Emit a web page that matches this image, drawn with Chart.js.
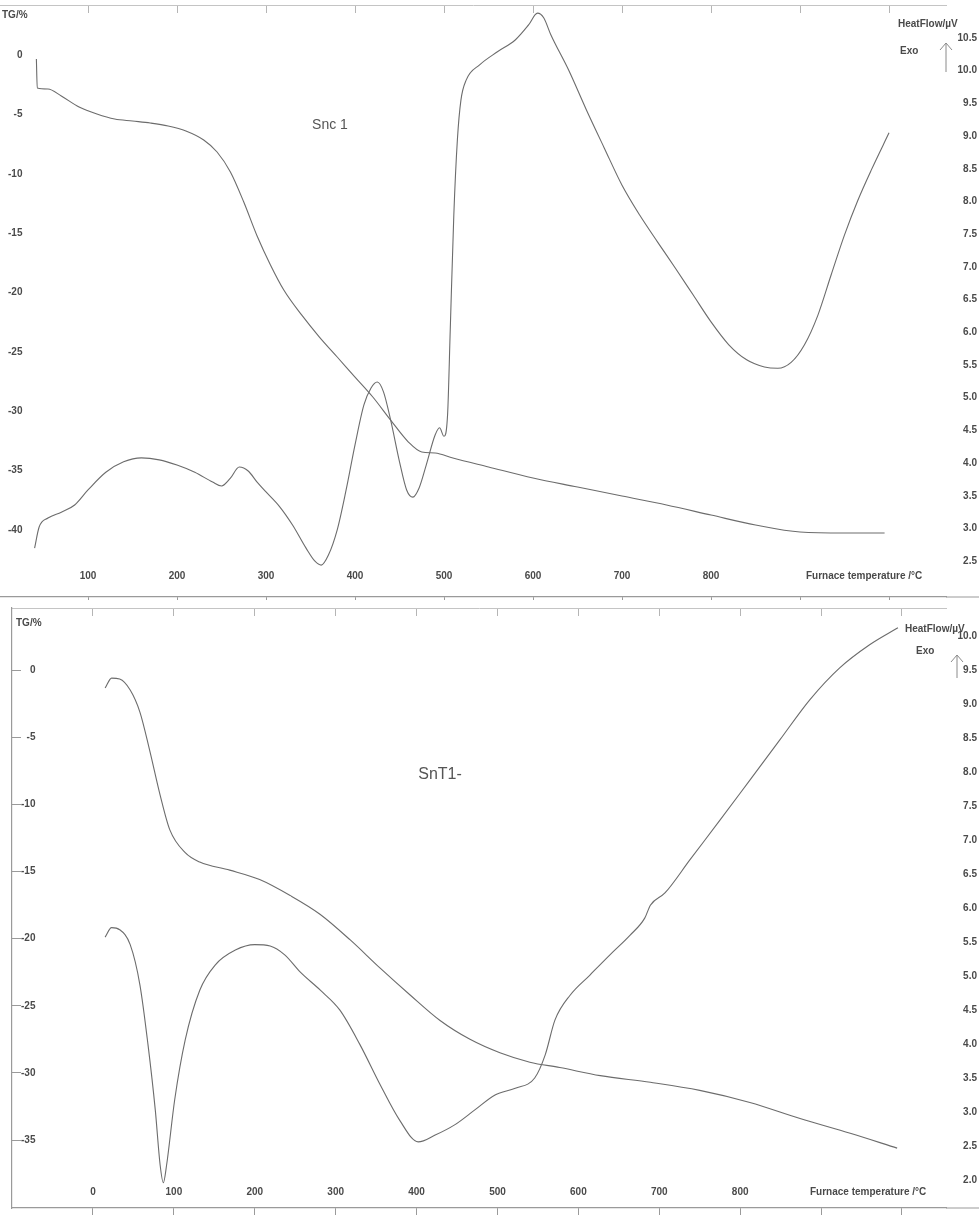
<!DOCTYPE html>
<html>
<head>
<meta charset="utf-8">
<script src="https://cdn.jsdelivr.net/npm/chart.js@4.4.1/dist/chart.umd.min.js"></script>
<style>
  html, body { margin: 0; padding: 0; background: #fff; }
  #wrap { position: relative; width: 979px; height: 1215px; overflow: hidden; }
  canvas { position: absolute; left: 0; }
  #snc { top: 0; }
  #snt { top: 600px; }
</style>
</head>
<body>
<div id="wrap">
  <canvas id="snc" width="979" height="600"></canvas>
  <canvas id="snt" width="979" height="615"></canvas>
</div>
<script>
// ---- Snc 1 (top panel) ----
const sncHfT = [40,45,55,70,85,100,120,140,160,180,200,220,240,250,260,270,280,290,300,315,330,345,355,362,370,380,390,400,410,418,425,432,440,450,458,465,472,480,490,495,500,504,507,511,515,519,525,540,560,580,595,605,612,620,640,660,680,700,720,740,760,780,800,820,840,860,875,890,905,920,935,950,965,980,1000];
const sncHf = [2.70,3.02,3.16,3.25,3.36,3.59,3.86,4.02,4.08,4.05,3.97,3.86,3.71,3.65,3.77,3.94,3.88,3.71,3.56,3.34,3.05,2.70,2.50,2.44,2.59,2.98,3.59,4.28,4.89,5.15,5.24,5.09,4.66,4.02,3.59,3.48,3.62,3.97,4.43,4.54,4.41,4.74,6.04,7.79,8.94,9.55,9.86,10.09,10.29,10.47,10.70,10.88,10.81,10.55,10.01,9.40,8.82,8.25,7.79,7.38,6.98,6.57,6.16,5.81,5.58,5.47,5.45,5.54,5.81,6.26,6.88,7.49,8.02,8.48,9.05];
const sncTgT = [42,43,55,70,90,110,130,150,170,190,210,230,245,260,275,290,305,320,340,360,380,400,420,440,460,475,490,510,550,600,650,700,750,800,850,900,950,995];
const sncTg = [-0.34,-2.78,-2.86,-3.45,-4.38,-4.97,-5.39,-5.56,-5.73,-5.98,-6.40,-7.16,-8.17,-9.85,-12.38,-15.24,-17.68,-19.79,-21.89,-23.75,-25.43,-27.12,-28.80,-30.74,-32.59,-33.43,-33.52,-33.94,-34.69,-35.62,-36.38,-37.14,-37.89,-38.74,-39.58,-40.17,-40.25,-40.25];
const sncTgTicks = [0,-5,-10,-15,-20,-25,-30,-35,-40];
const sncHfTicks = [2.5,3.0,3.5,4.0,4.5,5.0,5.5,6.0,6.5,7.0,7.5,8.0,8.5,9.0,9.5,10.0,10.5];
const sncTempTicks = [100,200,300,400,500,600,700,800,900,1000];
const sncTempLabels = [100,200,300,400,500,600,700,800];

// ---- SnT1- (bottom panel) ----
const sntHfT = [15,23,33,46,58,68,77,83,87,91,101,114,132,151,176,200,219,237,256,281,305,330,355,379,402,423,447,472,497,522,546,559,571,590,614,639,664,682,689,707,738,775,812,849,886,923,960,995];
const sntHf = [5.57,5.71,5.68,5.46,4.87,3.99,3.03,2.22,1.96,2.22,3.18,4.06,4.79,5.16,5.38,5.46,5.44,5.31,5.06,4.79,4.50,3.99,3.40,2.88,2.56,2.66,2.81,3.03,3.25,3.35,3.50,3.84,4.35,4.72,5.01,5.31,5.60,5.85,6.04,6.22,6.71,7.29,7.88,8.47,9.06,9.53,9.87,10.12];
const sntTgT = [15,23,33,46,58,70,83,95,114,132,169,206,244,281,318,355,392,429,466,503,540,577,627,689,750,812,874,936,994];
const sntTg = [-1.34,-0.60,-0.67,-1.49,-3.13,-5.96,-9.31,-11.9,-13.6,-14.3,-14.9,-15.6,-16.8,-18.2,-20.1,-22.2,-24.2,-26.1,-27.5,-28.5,-29.2,-29.6,-30.2,-30.7,-31.3,-32.2,-33.4,-34.5,-35.6];
const sntTgTicks = [0,-5,-10,-15,-20,-25,-30,-35];
const sntHfTicks = [2.0,2.5,3.0,3.5,4.0,4.5,5.0,5.5,6.0,6.5,7.0,7.5,8.0,8.5,9.0,9.5,10.0];
const sntTempTicks = [0,100,200,300,400,500,600,700,800,900,1000];
const sntTempLabels = [0,100,200,300,400,500,600,700,800];

const ink = "#4a4a4a";
const lineGrey = "#6c6c6c";
const frameGrey = "#9a9a9a";

Chart.defaults.font.family = "'Liberation Sans', Arial, sans-serif";
Chart.defaults.font.size = 10;
Chart.defaults.font.weight = "bold";
Chart.defaults.color = ink;

function pairs(xs, ys) {
  return xs.map((x, i) => ({ x: x, y: ys[i] }));
}

function fixedTicks(values) {
  return (scale) => {
    scale.ticks = values.map((v) => ({ value: v }));
  };
}

// fixed box size and no extra layout padding from the tick labels
function fixedBox(key, size) {
  return (scale) => {
    scale[key] = size;
    scale.paddingTop = 0;
    scale.paddingBottom = 0;
    scale.paddingLeft = 0;
    scale.paddingRight = 0;
  };
}

// texts, the Exo arrow and the rest of the bottom frame line
function notesPlugin(notes, arrow) {
  return {
    id: "notes",
    afterDraw(chart) {
      const ctx = chart.ctx;
      const area = chart.chartArea;
      ctx.save();
      ctx.strokeStyle = frameGrey;
      ctx.lineWidth = 1.2;
      ctx.beginPath();
      ctx.moveTo(area.right, area.bottom);
      ctx.lineTo(chart.width, area.bottom);
      ctx.stroke();

      ctx.textBaseline = "middle";
      notes.forEach((n) => {
        ctx.font = n.font || "bold 10px 'Liberation Sans', Arial, sans-serif";
        ctx.fillStyle = n.color || ink;
        ctx.textAlign = n.align || "left";
        ctx.fillText(n.text, n.x, n.y);
      });
      ctx.strokeStyle = "#8a8a8a";
      ctx.lineWidth = 1;
      ctx.beginPath();
      ctx.moveTo(arrow.x, arrow.y1);
      ctx.lineTo(arrow.x, arrow.y2);
      ctx.moveTo(arrow.x - 6, arrow.y2 + 7);
      ctx.lineTo(arrow.x, arrow.y2);
      ctx.lineTo(arrow.x + 6, arrow.y2 + 7);
      ctx.stroke();
      ctx.restore();
    },
  };
}

function buildPanel(id, p) {
  const ctx = document.getElementById(id).getContext("2d");
  const curveStyle = {
    borderColor: lineGrey,
    borderWidth: 1.1,
    pointRadius: 0,
    fill: false,
    cubicInterpolationMode: "monotone",
    xAxisID: "x",
  };
  return new Chart(ctx, {
    type: "line",
    data: {
      datasets: [
        { ...curveStyle, label: "TG", data: pairs(p.tgT, p.tg), yAxisID: "tg" },
        { ...curveStyle, label: "HeatFlow", data: pairs(p.hfT, p.hf), yAxisID: "hf" },
      ],
    },
    options: {
      responsive: false,
      animation: false,
      events: [],
      layout: { autoPadding: false, padding: { left: p.left, right: 2, top: 0, bottom: 0 } },
      plugins: { legend: { display: false }, tooltip: { enabled: false } },
      scales: {
        x: {
          type: "linear",
          position: "bottom",
          min: p.xMin,
          max: p.xMax,
          afterBuildTicks: fixedTicks(p.tempTicks),
          afterFit: fixedBox("height", p.bottomH),
          grid: { drawOnChartArea: false, tickLength: p.bottomH, color: frameGrey },
          border: { color: frameGrey, width: 1.2 },
          ticks: {
            mirror: true,
            padding: p.xPad,
            maxRotation: 0,
            autoSkip: false,
            callback: (v) => (p.tempLabels.includes(v) ? String(v) : ""),
          },
        },
        xTop: {
          type: "linear",
          position: "top",
          min: p.xMin,
          max: p.xMax,
          afterBuildTicks: fixedTicks(p.tempTicks),
          afterFit: fixedBox("height", p.topH),
          grid: { drawOnChartArea: false, tickLength: -8, color: "#b5b5b5" },
          border: { color: "#c4c4c4", width: 1 },
          ticks: { display: false },
        },
        tg: {
          type: "linear",
          position: "left",
          min: p.tgMin,
          max: p.tgMax,
          afterBuildTicks: fixedTicks(p.tgTicks),
          afterFit: fixedBox("width", 0),
          grid: { drawOnChartArea: false, drawTicks: p.leftFrame, tickLength: -9, color: frameGrey },
          border: { display: p.leftFrame, color: frameGrey, width: 1.2 },
          ticks: { mirror: true, crossAlign: "far", padding: p.tgPad, autoSkip: false, callback: (v) => String(v) },
        },
        hf: {
          type: "linear",
          position: "right",
          min: p.hfMin,
          max: p.hfMax,
          afterBuildTicks: fixedTicks(p.hfTicks),
          afterFit: fixedBox("width", 31),
          grid: { drawOnChartArea: false, drawTicks: false },
          border: { display: false },
          ticks: { crossAlign: "far", padding: 0, autoSkip: false, callback: (v) => v.toFixed(1) },
        },
      },
    },
    plugins: [notesPlugin(p.notes, p.arrow)],
  });
}

buildPanel("snc", {
  tgT: sncTgT, tg: sncTg, hfT: sncHfT, hf: sncHf,
  tgTicks: sncTgTicks, hfTicks: sncHfTicks,
  tempTicks: sncTempTicks, tempLabels: sncTempLabels,
  left: 0, topH: 5, bottomH: 3, xPad: 15, tgPad: 8, leftFrame: false,
  xMin: 1.124, xMax: 1064.0,
  tgMin: -45.64, tgMax: 4.21,
  hfMin: 1.953, hfMax: 11.005,
  notes: [
    { text: "TG/%", x: 2, y: 15 },
    { text: "HeatFlow/µV", x: 898, y: 24 },
    { text: "Exo", x: 900, y: 51 },
    { text: "Furnace temperature /°C", x: 806, y: 576 },
    { text: "Snc 1", x: 330, y: 125, align: "center", font: "14px 'Liberation Sans', Arial, sans-serif", color: "#555" },
  ],
  arrow: { x: 946, y1: 72, y2: 43 },
});

buildPanel("snt", {
  tgT: sntTgT, tg: sntTg, hfT: sntHfT, hf: sntHf,
  tgTicks: sntTgTicks, hfTicks: sntHfTicks,
  tempTicks: sntTempTicks, tempLabels: sntTempLabels,
  left: 12, topH: 8, bottomH: 7, xPad: 10, tgPad: 9, leftFrame: true,
  xMin: -100.1, xMax: 1054.4,
  tgMin: -40.06, tgMax: 4.62,
  hfMin: 1.588, hfMax: 10.41,
  notes: [
    { text: "TG/%", x: 16, y: 23 },
    { text: "HeatFlow/µV", x: 905, y: 29 },
    { text: "Exo", x: 916, y: 51 },
    { text: "Furnace temperature /°C", x: 810, y: 592 },
    { text: "SnT1-", x: 440, y: 175, align: "center", font: "16px 'Liberation Sans', Arial, sans-serif", color: "#555" },
  ],
  arrow: { x: 957, y1: 78, y2: 55 },
});
</script>
</body>
</html>
